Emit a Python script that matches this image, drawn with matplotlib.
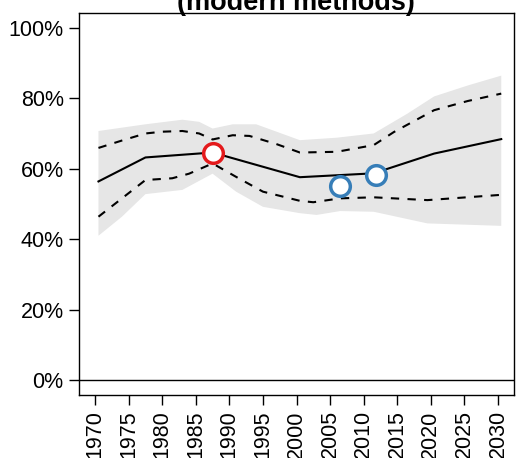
import numpy as np
import matplotlib
matplotlib.use("Agg")
import matplotlib.pyplot as plt
from matplotlib.ticker import FuncFormatter

plt.rcParams['font.family'] = ['Liberation Sans', 'DejaVu Sans']

# Median projection
med_years = [1970.5, 1977.5, 1987.5, 2000.5, 2011.5, 2020.5, 2030.5]
med_vals = [56.4, 63.2, 64.6, 57.6, 58.7, 64.3, 68.4]

# 80% interval
up80_years = [1970.5, 1974, 1977.5, 1980, 1983, 1985.5, 1987.5, 1990.5, 1993, 1997,
              2000.5, 2006, 2011.5, 2014.5, 2017.5, 2020.5, 2025.5, 2030.5]
up80_vals = [65.9, 68.0, 70.0, 70.5, 70.7, 70.0, 68.3, 69.5, 69.3, 67.0,
             64.6, 64.8, 66.7, 70.4, 73.5, 76.6, 79.2, 81.3]
lo80_years = [1970.5, 1974, 1977.5, 1981.5, 1984, 1987.5, 1991, 1995, 2000.5, 2002.5,
              2006.5, 2011.5, 2019.5, 2030.5]
lo80_vals = [46.4, 51.6, 56.8, 57.3, 58.6, 61.5, 57.7, 53.5, 50.9, 50.5,
             51.6, 51.9, 51.1, 52.6]

# 95% interval
up95_years = [1970.5, 1977.5, 1983, 1985.5, 1987.5, 1990.5, 1994, 2000.5, 2006, 2011.5,
              2016.5, 2020.5, 2025.5, 2030.5]
up95_vals = [70.7, 72.6, 73.9, 73.3, 71.4, 72.6, 72.6, 68.1, 68.8, 70.0,
             75.6, 80.5, 83.6, 86.4]
lo95_years = [1970.5, 1974, 1977.5, 1983, 1987.5, 1991, 1995, 2000.5, 2003, 2006.5,
              2011.5, 2019.5, 2030.5]
lo95_vals = [41.0, 46.4, 52.8, 54.0, 58.6, 53.5, 49.2, 47.4, 46.9, 48.0,
             47.8, 44.5, 43.8]

# Observations
obs_red_years = [1987.5]
obs_red_vals = [64.6]
obs_blue_years = [2006.5, 2011.8]
obs_blue_vals = [55.1, 58.1]

xticks = list(range(1970, 2031, 5))
yticks = [0, 20, 40, 60, 80, 100]

fig = plt.figure(figsize=(5.17, 4.58), dpi=100)
ax = fig.add_axes([79/517, 1-395/458, (514-79)/517, (395-13)/458])

ax.fill(np.r_[up95_years, lo95_years[::-1]], np.r_[up95_vals, lo95_vals[::-1]],
        color='#e6e6e6', lw=0, zorder=1)
ax.plot(med_years, med_vals, color='black', lw=1.5, zorder=3)
ax.plot(up80_years, up80_vals, color='black', lw=1.5, ls=(0, (4, 4)), zorder=3)
ax.plot(lo80_years, lo80_vals, color='black', lw=1.5, ls=(0, (4, 4)), zorder=3)
ax.axhline(0, color='black', lw=1.0, zorder=2)

ax.scatter(obs_red_years, obs_red_vals, s=200, facecolor='white', edgecolor='#e41a1c',
           linewidths=2.5, zorder=5)
ax.scatter(obs_blue_years, obs_blue_vals, s=200, facecolor='white', edgecolor='#377eb8',
           linewidths=2.5, zorder=5)

ax.set_xlim(1967.6, 2032.4)
ax.set_ylim(-4.16, 104.16)
ax.set_xticks(xticks)
ax.set_xticklabels([str(x) for x in xticks], rotation=90)
ax.set_yticks(yticks)
ax.yaxis.set_major_formatter(FuncFormatter(lambda v, p: f"{int(v)}%"))
ax.tick_params(axis='both', labelsize=15.5, length=7, width=1.0, color='black',
               labelcolor='black', pad=4)
for s in ax.spines.values():
    s.set_linewidth(1.0)
    s.set_color('black')

fig.text(296/517, 1-10.5/458, "(modern methods)", ha='center', va='baseline',
         fontsize=19.5, fontweight='bold')

fig.savefig("out.png", dpi=100)
